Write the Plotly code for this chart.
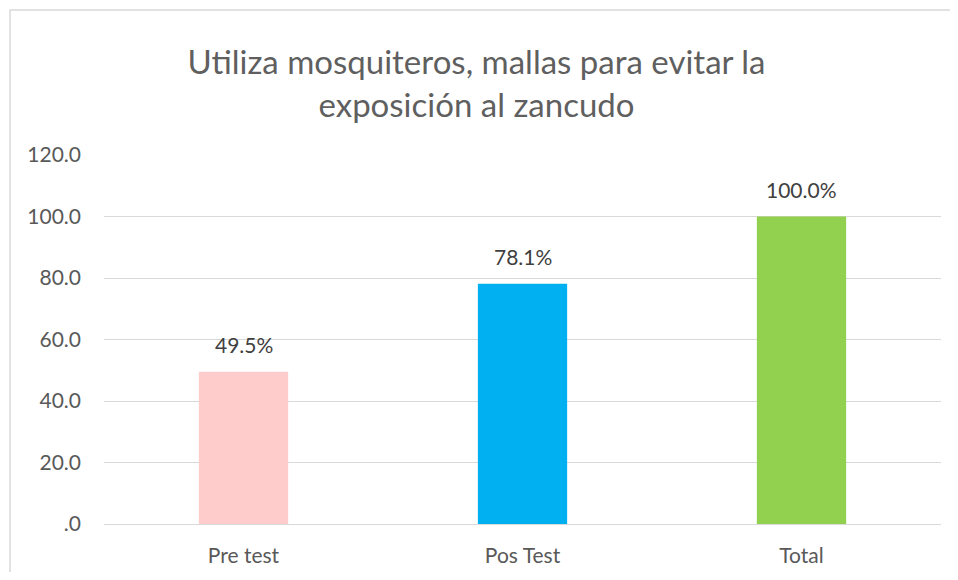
import plotly.graph_objects as go

categories = ["Pre test", "Pos Test", "Total"]
values = [49.5, 78.1, 100.0]
colors = ["#FFCCCC", "#00B0F0", "#92D050"]
tick_vals = [0, 20, 40, 60, 80, 100, 120]
tick_text = [".0", "20.0", "40.0", "60.0", "80.0", "100.0", "120.0"]
title_text = "Utiliza mosquiteros, mallas para evitar la<br>exposición al zancudo"

FONT = "Lato"

fig = go.Figure()
fig.add_trace(go.Bar(
    x=categories, y=values, marker=dict(color=colors, line=dict(width=0)),
    hoverinfo="skip", showlegend=False,
))

for c, v in zip(categories, values):
    fig.add_annotation(x=c, y=v, text=f"{v:.1f}%", showarrow=False,
                       yanchor="bottom", yshift=13,
                       font=dict(family=FONT, size=21, color="#404040"))

# page has an 8px body margin, so the figure is sized/placed to compensate
W, H = 942, 564
ml, mr, mt, mb = 96, 9, 147, 48
pw, ph = W - ml - mr, H - mt - mb

fig.add_shape(type="rect", xref="paper", yref="paper",
              x0=(2 - ml) / pw, x1=1.2,
              y0=-0.4, y1=1 + (mt - 2) / ph,
              line=dict(color="#D9D9D9", width=1.5), fillcolor="rgba(0,0,0,0)", layer="below")

fig.update_layout(
    width=W, height=H,
    margin=dict(l=ml, r=mr, t=mt, b=mb, autoexpand=False),
    paper_bgcolor="white", plot_bgcolor="white",
    bargap=0.68,
    title=dict(text=title_text, x=(476.5 - 8) / W, xref="container", xanchor="center",
               y=1 - 66 / H, yref="container", yanchor="middle",
               font=dict(family=FONT, size=33, color="#5f5f5f")),
    font=dict(family=FONT, color="#595959"),
    xaxis=dict(showgrid=False, showline=False, ticks="", tickfont=dict(size=21, color="#595959"),
               ticklabelstandoff=17, automargin=False),
    yaxis=dict(range=[0, 120], tickvals=tick_vals, ticktext=tick_text,
               showgrid=True, gridcolor="#D9D9D9", gridwidth=1.2,
               zeroline=True, zerolinecolor="#D9D9D9", zerolinewidth=1.2,
               showline=False, ticks="", tickfont=dict(size=21, color="#595959"),
               ticklabelstandoff=22, automargin=False),
)

fig.write_html("out.html")
